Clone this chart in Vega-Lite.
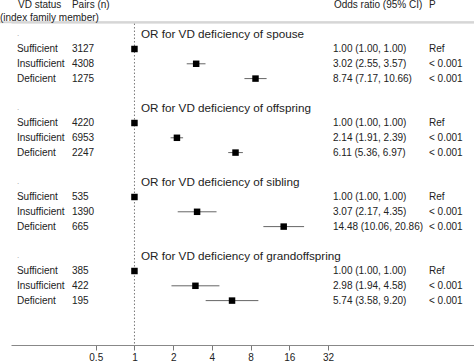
{
  "$schema": "https://vega.github.io/schema/vega-lite/v6.json",
  "width": 463,
  "height": 345,
  "autosize": "none",
  "padding": {"left": 11, "top": 0, "right": 0, "bottom": 18},
  "background": "white",
  "config": {"view": {"stroke": null}, "font": "Liberation Sans"},
  "resolve": {"axis": {"x": "independent"}},
  "datasets": {
    "rows": [
      {"group": "spouse", "idx": 1, "status": "Sufficient", "n": "3127", "or": 1.0, "lo": 1.0, "hi": 1.0, "ortext": "1.00 (1.00, 1.00)", "p": "Ref"},
      {"group": "spouse", "idx": 2, "status": "Insufficient", "n": "4308", "or": 3.02, "lo": 2.55, "hi": 3.57, "ortext": "3.02 (2.55, 3.57)", "p": "< 0.001"},
      {"group": "spouse", "idx": 3, "status": "Deficient", "n": "1275", "or": 8.74, "lo": 7.17, "hi": 10.66, "ortext": "8.74 (7.17, 10.66)", "p": "< 0.001"},
      {"group": "offspring", "idx": 6, "status": "Sufficient", "n": "4220", "or": 1.0, "lo": 1.0, "hi": 1.0, "ortext": "1.00 (1.00, 1.00)", "p": "Ref"},
      {"group": "offspring", "idx": 7, "status": "Insufficient", "n": "6953", "or": 2.14, "lo": 1.91, "hi": 2.39, "ortext": "2.14 (1.91, 2.39)", "p": "< 0.001"},
      {"group": "offspring", "idx": 8, "status": "Deficient", "n": "2247", "or": 6.11, "lo": 5.36, "hi": 6.97, "ortext": "6.11 (5.36, 6.97)", "p": "< 0.001"},
      {"group": "sibling", "idx": 11, "status": "Sufficient", "n": "535", "or": 1.0, "lo": 1.0, "hi": 1.0, "ortext": "1.00 (1.00, 1.00)", "p": "Ref"},
      {"group": "sibling", "idx": 12, "status": "Insufficient", "n": "1390", "or": 3.07, "lo": 2.17, "hi": 4.35, "ortext": "3.07 (2.17, 4.35)", "p": "< 0.001"},
      {"group": "sibling", "idx": 13, "status": "Deficient", "n": "665", "or": 14.48, "lo": 10.06, "hi": 20.86, "ortext": "14.48 (10.06, 20.86)", "p": "< 0.001"},
      {"group": "grandoffspring", "idx": 16, "status": "Sufficient", "n": "385", "or": 1.0, "lo": 1.0, "hi": 1.0, "ortext": "1.00 (1.00, 1.00)", "p": "Ref"},
      {"group": "grandoffspring", "idx": 17, "status": "Insufficient", "n": "422", "or": 2.98, "lo": 1.94, "hi": 4.58, "ortext": "2.98 (1.94, 4.58)", "p": "< 0.001"},
      {"group": "grandoffspring", "idx": 18, "status": "Deficient", "n": "195", "or": 5.74, "lo": 3.58, "hi": 9.2, "ortext": "5.74 (3.58, 9.20)", "p": "< 0.001"}
    ],
    "titles": [
      {"idx": 0, "title": "OR for VD deficiency of spouse"},
      {"idx": 5, "title": "OR for VD deficiency of offspring"},
      {"idx": 10, "title": "OR for VD deficiency of sibling"},
      {"idx": 15, "title": "OR for VD deficiency of grandoffspring"}
    ],
    "header": [
      {"label": "VD status", "xpos": 0.1242, "idx": -1.97},
      {"label": "Pairs (n)", "xpos": 0.3263, "idx": -1.97},
      {"label": "(index family member)", "xpos": 0.0899, "idx": -1.12},
      {"label": "Odds ratio (95% CI)", "xpos": 35.6, "idx": -1.97},
      {"label": "P", "xpos": 195.3, "idx": -1.97}
    ],
    "hline": [{"lo": 0.0899, "hi": 437.4, "idx": -0.8}]
  },
  "encoding": {
    "y": {"type": "quantitative", "scale": {"domain": [-2.31, 21.0], "reverse": true, "nice": false, "zero": false}, "axis": null}
  },
  "layer": [
    {
      "data": {"values": [{"x": 1, "y": -0.72, "y2": 21.0}]},
      "mark": {"type": "rule", "color": "#777777", "strokeWidth": 1, "strokeDash": [1.5, 2]},
      "encoding": {
        "x": {"field": "x", "type": "quantitative", "scale": {"type": "log", "base": 2, "domain": [0.1096, 437.4], "nice": false},
          "axis": {"values": [0.5, 1, 2, 4, 8, 16, 32], "title": null, "grid": false, "labelFontSize": 10, "labelColor": "#222222", "labelPadding": 2, "tickSize": 5, "tickColor": "#777777", "domainColor": "#888888", "labelFont": "Liberation Sans", "format": "~g"}},
        "y": {"field": "y", "type": "quantitative"},
        "y2": {"field": "y2"}
      }
    },
    {
      "data": {"name": "hline"},
      "mark": {"type": "rule", "color": "#d6d6d6", "strokeWidth": 2},
      "encoding": {
        "x": {"field": "lo", "type": "quantitative",
          "axis": {"orient": "top", "offset": -22, "title": null, "labels": false, "ticks": false, "grid": false, "domain": true, "domainColor": "#d6d6d6", "domainWidth": 2}},
        "x2": {"field": "hi"},
        "y": {"field": "idx", "type": "quantitative"}
      }
    },
    {
      "data": {"name": "rows"},
      "mark": {"type": "rule", "color": "#666666", "strokeWidth": 1},
      "encoding": {
        "x": {"field": "lo", "type": "quantitative", "axis": null},
        "x2": {"field": "hi"},
        "y": {"field": "idx", "type": "quantitative"}
      }
    },
    {
      "data": {"name": "rows"},
      "mark": {"type": "point", "shape": "square", "filled": true, "color": "#000000", "opacity": 1, "size": 42},
      "encoding": {
        "x": {"field": "or", "type": "quantitative", "axis": null},
        "y": {"field": "idx", "type": "quantitative"}
      }
    },
    {
      "data": {"name": "rows"},
      "mark": {"type": "text", "align": "left", "baseline": "middle", "fontSize": 10, "color": "#222222"},
      "encoding": {
        "x": {"datum": 0.1219, "type": "quantitative", "axis": null},
        "y": {"field": "idx", "type": "quantitative"},
        "text": {"field": "status"}
      }
    },
    {
      "data": {"name": "rows"},
      "mark": {"type": "text", "align": "left", "baseline": "middle", "fontSize": 10, "color": "#222222"},
      "encoding": {
        "x": {"datum": 0.3263, "type": "quantitative", "axis": null},
        "y": {"field": "idx", "type": "quantitative"},
        "text": {"field": "n"}
      }
    },
    {
      "data": {"name": "rows"},
      "mark": {"type": "text", "align": "left", "baseline": "middle", "fontSize": 10, "color": "#222222"},
      "encoding": {
        "x": {"datum": 35.0, "type": "quantitative", "axis": null},
        "y": {"field": "idx", "type": "quantitative"},
        "text": {"field": "ortext"}
      }
    },
    {
      "data": {"name": "rows"},
      "mark": {"type": "text", "align": "left", "baseline": "middle", "fontSize": 10, "color": "#222222"},
      "encoding": {
        "x": {"datum": 195.3, "type": "quantitative", "axis": null},
        "y": {"field": "idx", "type": "quantitative"},
        "text": {"field": "p"}
      }
    },
    {
      "data": {"name": "titles"},
      "mark": {"type": "text", "align": "left", "baseline": "middle", "fontSize": 11.7, "color": "#222222"},
      "encoding": {
        "x": {"datum": 1.123, "type": "quantitative", "axis": null},
        "y": {"field": "idx", "type": "quantitative"},
        "text": {"field": "title"}
      }
    },
    {
      "data": {"name": "titles"},
      "mark": {"type": "text", "align": "left", "baseline": "middle", "fontSize": 8, "color": "#999999"},
      "encoding": {
        "x": {"datum": 0.1219, "type": "quantitative", "axis": null},
        "y": {"field": "idx", "type": "quantitative"},
        "text": {"value": "."}
      }
    },
    {
      "data": {"name": "header"},
      "mark": {"type": "text", "align": "left", "baseline": "middle", "fontSize": 10, "color": "#222222"},
      "encoding": {
        "x": {"field": "xpos", "type": "quantitative", "axis": null},
        "y": {"field": "idx", "type": "quantitative"},
        "text": {"field": "label"}
      }
    }
  ]
}
